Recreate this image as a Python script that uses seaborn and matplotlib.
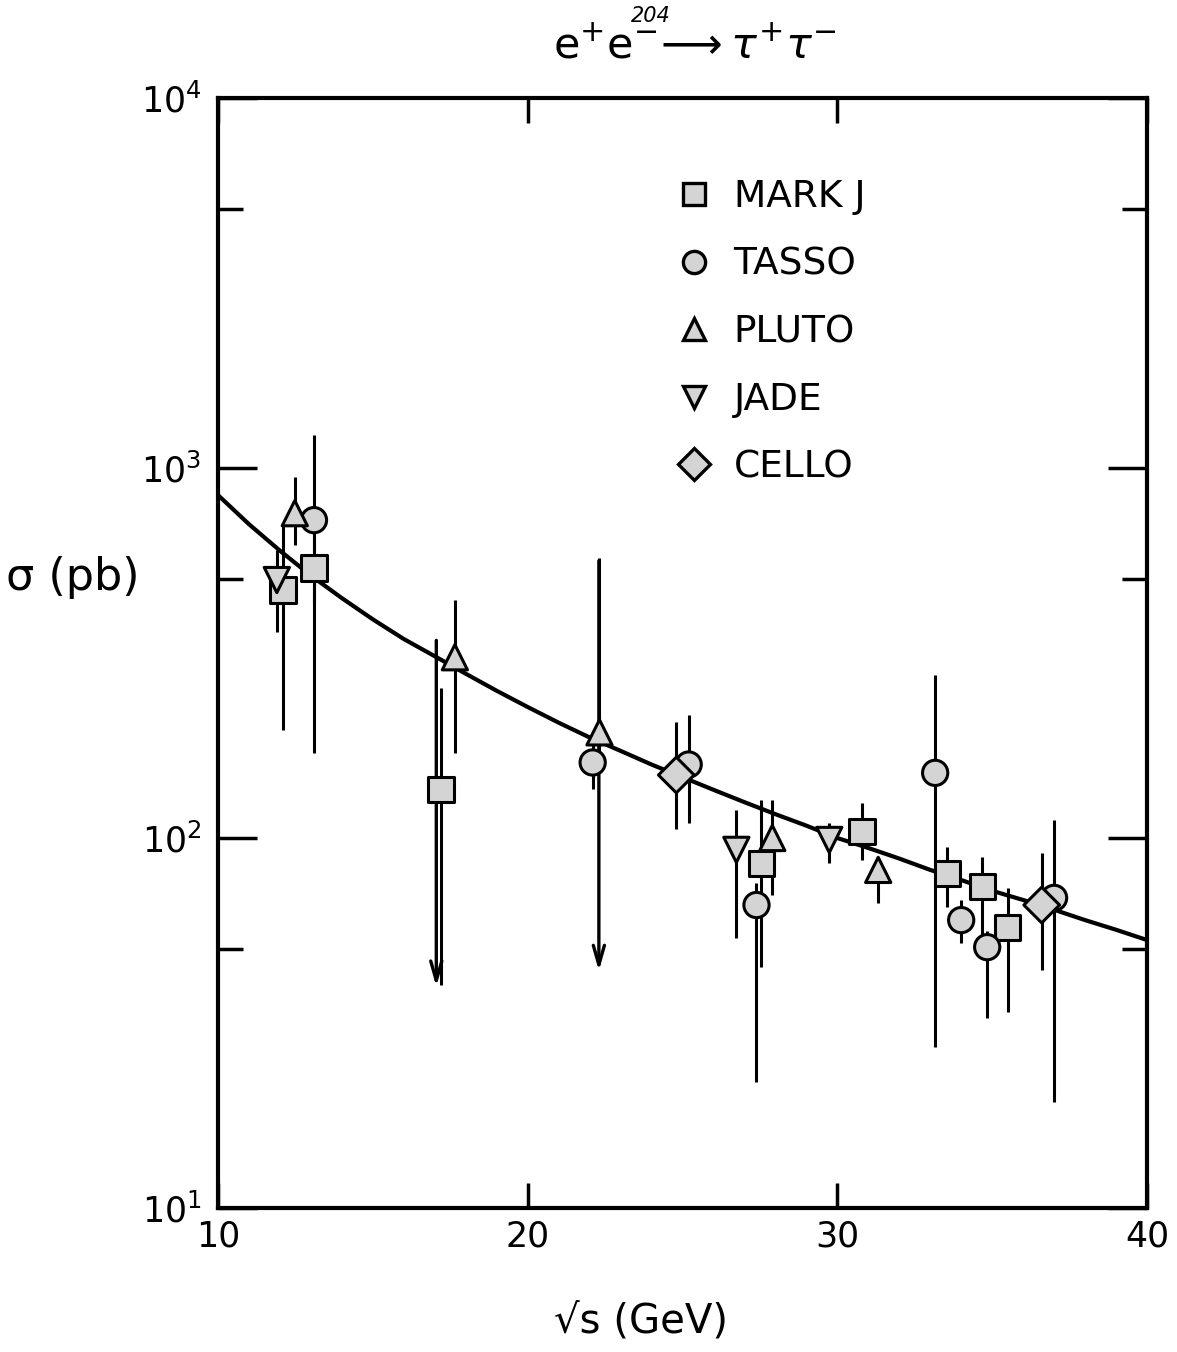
import numpy as np
import pandas as pd
import matplotlib
matplotlib.use("Agg")
import matplotlib.pyplot as plt
from matplotlib.lines import Line2D
import matplotlib.ticker as mticker
import seaborn as sns

# ---------------- data ----------------
markj_E = [12.1, 13.1, 17.2, 27.55, 30.8, 33.55, 34.68, 35.5]
markj_s = [468, 537, 135, 85.5, 104, 80.3, 73.8, 57.4]
markj_lo = [196, 430, 40, 44.8, 87, 65, 52, 33.9]
markj_hi = [710, 650, 254, 127, 124.5, 94.6, 89, 73.3]

tasso_E = [13.1, 22.1, 25.2, 27.39, 33.16, 34.0, 34.84, 37.0]
tasso_s = [723, 160, 158, 65.9, 150, 60, 50.7, 68.9]
tasso_lo = [170, 136, 110, 21.9, 27.2, 52, 32.7, 19.3]
tasso_hi = [1227, 184, 215, 75.5, 276, 68, 56, 112]

pluto_E = [12.48, 17.65, 22.32, 27.9, 31.32]
pluto_s = [755, 308, 193, 100, 82]
pluto_lo = [620, 170, 160, 70, 66.7]
pluto_hi = [946, 440, 571, 127, 89]

jade_E = [11.9, 26.74, 29.74]
jade_s = [498, 92.9, 98.8]
jade_lo = [360, 53.7, 85.5]
jade_hi = [600, 119, 110]

cello_E = [24.8, 36.6]
cello_s = [148, 65.9]
cello_lo = [106, 44]
cello_hi = [206, 91]

# upper-limit arrows
limit_E = [17.05, 22.3]
limit_top = [348, 571]
limit_bottom = [39, 43]

# QED curve
curve_E = list(range(10, 41))
curve_s = [845, 705, 598, 512, 445, 390, 345, 310, 278, 250, 226, 205, 187,
           172, 158, 146, 135, 125, 116, 108, 100, 94, 88, 82, 77, 72, 68,
           64, 60, 56.5, 53]

experiments = ["MARK J", "TASSO", "PLUTO", "JADE", "CELLO"]
marker_map = {"MARK J": "s", "TASSO": "o", "PLUTO": "^", "JADE": "v", "CELLO": "D"}
x_ticks = [10, 20, 30, 40]
x_ticklabels = ["10", "20", "30", "40"]
y_ticks = [10, 100, 1000, 10000]
y_ticklabels = [r"$10^{1}$", r"$10^{2}$", r"$10^{3}$", r"$10^{4}$"]

# ---------------- build table ----------------
rows = []
for name, E, s, lo, hi in [
    ("MARK J", markj_E, markj_s, markj_lo, markj_hi),
    ("TASSO", tasso_E, tasso_s, tasso_lo, tasso_hi),
    ("PLUTO", pluto_E, pluto_s, pluto_lo, pluto_hi),
    ("JADE", jade_E, jade_s, jade_lo, jade_hi),
    ("CELLO", cello_E, cello_s, cello_lo, cello_hi),
]:
    for e, v, l, h in zip(E, s, lo, hi):
        rows.append(dict(experiment=name, energy=e, sigma=v, lo=l, hi=h))
df = pd.DataFrame(rows)
curve_df = pd.DataFrame(dict(energy=curve_E, sigma=curve_s))

# ---------------- style ----------------
sns.set_style("ticks")
plt.rcParams["font.family"] = ["DejaVu Sans"]
plt.rcParams["mathtext.fontset"] = "dejavusans"
plt.rcParams["text.color"] = "black"
plt.rcParams["xtick.color"] = "black"
plt.rcParams["ytick.color"] = "black"
plt.rcParams["xtick.labelcolor"] = "black"
plt.rcParams["ytick.labelcolor"] = "black"

fig = plt.figure(figsize=(11.77, 13.52), dpi=100)
ax = fig.add_axes([0.1852, 0.1065, 0.7893, 0.821])

ax.set_yscale("log")

# error bars
ax.vlines(df["energy"], df["lo"], df["hi"], color="black", lw=2.2, zorder=2)

# upper-limit arrows
for e, t, b in zip(limit_E, limit_top, limit_bottom):
    ax.annotate("", xy=(e, b), xytext=(e, t),
                arrowprops=dict(arrowstyle="->,head_length=1.4,head_width=0.4",
                                lw=2.4, color="black"), zorder=2)

# curve
sns.lineplot(data=curve_df, x="energy", y="sigma", ax=ax, color="black",
             lw=3, zorder=3, legend=False)

# markers
sns.scatterplot(data=df, x="energy", y="sigma", style="experiment",
                markers=marker_map, style_order=experiments, s=330,
                color="#d4d4d4", edgecolor="black", linewidth=2.2,
                ax=ax, zorder=4, legend=False)

ax.set_xlim(10, 40)
ax.set_ylim(10, 10000)

ax.set_xticks(x_ticks)
ax.set_xticklabels(x_ticklabels)
ax.yaxis.set_major_locator(mticker.FixedLocator(y_ticks))
ax.yaxis.set_major_formatter(mticker.FixedFormatter(y_ticklabels))
ax.yaxis.set_minor_locator(mticker.FixedLocator([50, 500, 5000]))
ax.yaxis.set_minor_formatter(mticker.NullFormatter())

ax.tick_params(axis="both", which="both", direction="in", top=True, right=True,
               width=2.5, color="black", labelcolor="black")
ax.tick_params(axis="x", which="major", length=18, labelsize=25, pad=8)
ax.tick_params(axis="y", which="major", length=28, labelsize=25, pad=12)
ax.tick_params(axis="y", which="minor", length=18)
for sp in ax.spines.values():
    sp.set_linewidth(3)
    sp.set_color("black")

ax.set_xlabel("")
ax.set_ylabel("")

fig.text(0.005, 0.573, "σ (pb)", fontsize=32, ha="left", va="center")
fig.text(0.545, 0.022, "√s (GeV)", fontsize=29, ha="center", va="center")
fig.text(0.59, 0.966,
         r"$\mathrm{e}^{+}\mathrm{e}^{-}\!\longrightarrow\tau^{+}\tau^{-}$",
         fontsize=31, ha="center", va="center")
fig.text(0.553, 0.988, "204", fontsize=15, ha="center", va="center",
         style="italic")

handles = [Line2D([], [], ls="none", marker=marker_map[n], markersize=16,
                  markerfacecolor="#d4d4d4", markeredgecolor="black",
                  markeredgewidth=2.4) for n in experiments]
ax.legend(handles, experiments, loc="upper left",
          bbox_to_anchor=(0.452, 0.957), frameon=False, fontsize=27,
          labelspacing=0.84, handletextpad=0.45, handlelength=1.2,
          labelcolor="black")

fig.savefig("out.png", dpi=100, facecolor="white")
